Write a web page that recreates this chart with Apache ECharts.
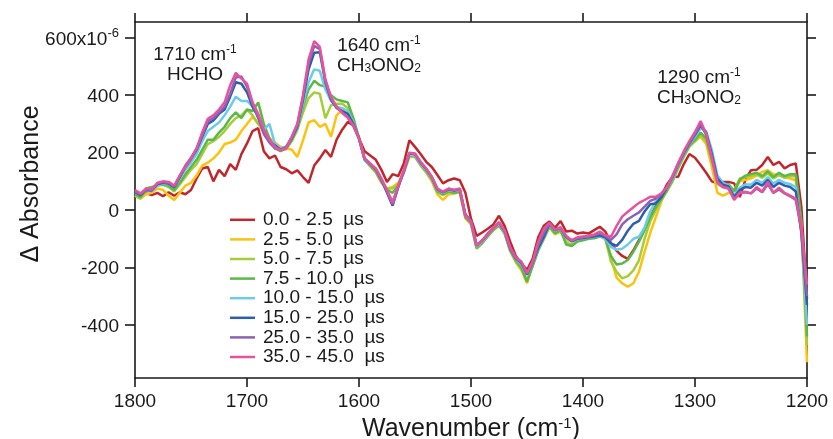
<!DOCTYPE html>
<html><head><meta charset="utf-8">
<script src="https://cdn.jsdelivr.net/npm/echarts@6/dist/echarts.min.js"></script>
<style>html,body{margin:0;padding:0;background:#fff}#c{width:833px;height:439px}</style>
</head><body><div id="c"></div>
<script>
const wavenumbers = [
1800,1795,1790,1785,1780,1775,1770,1765,1760,1755,
1750,1745,1740,1735,1730,1725,1720,1715,1710,1705,
1700,1695,1690,1685,1680,1675,1670,1665,1660,1655,
1650,1645,1640,1635,1630,1625,1620,1615,1610,1605,
1600,1595,1590,1585,1580,1575,1570,1565,1560,1555,
1550,1545,1540,1535,1530,1525,1520,1515,1510,1505,
1500,1495,1490,1485,1480,1475,1470,1465,1460,1455,
1450,1445,1440,1435,1430,1425,1420,1415,1410,1405,
1400,1395,1390,1385,1380,1375,1370,1365,1360,1355,
1350,1345,1340,1335,1330,1325,1320,1315,1310,1305,
1300,1295,1290,1285,1280,1275,1270,1265,1260,1255,
1250,1245,1240,1235,1230,1225,1220,1215,1210,1205,
1200];

const abs_0_0_2_5 = [
55,48,58,52,60,48,62,50,62,55,
70,110,145,150,100,140,118,160,140,195,
232,275,285,205,180,190,150,142,128,138,
115,95,155,180,209,185,245,280,307,295,
250,205,190,175,140,98,125,118,162,243,
220,195,168,150,122,93,104,110,104,60,
-30,-90,-78,-65,-50,-20,-55,-110,-160,-185,
-209,-170,-95,-55,-40,-62,-38,-75,-72,-82,
-78,-82,-70,-58,-75,-116,-142,-160,-170,-140,
-105,-65,-25,15,50,90,115,116,160,195,
182,157,130,100,93,98,98,93,45,105,
139,140,157,185,157,168,145,157,162,10,
-310];

const abs_2_5_5_0 = [
50,40,55,60,75,70,50,35,60,85,
95,120,155,165,180,200,230,235,245,275,
300,325,300,270,250,235,220,215,210,185,
243,305,313,290,300,255,330,350,340,300,
255,175,152,130,95,75,80,95,130,185,
185,155,130,100,55,35,55,58,62,-28,
-50,-130,-112,-88,-68,-52,-80,-142,-182,-210,
-255,-190,-135,-98,-60,-85,-75,-105,-110,-105,
-100,-98,-95,-90,-100,-170,-235,-255,-267,-255,
-215,-145,-80,-25,30,75,105,150,190,225,
240,255,230,150,60,50,60,65,100,105,
110,120,133,139,125,122,115,110,104,-60,
-530];

const abs_5_0_7_5 = [
50,40,70,75,85,88,80,65,90,115,
140,160,195,230,240,255,275,300,320,330,
350,330,300,285,250,220,210,212,240,280,
340,390,410,405,320,365,370,370,355,310,
250,175,155,135,100,75,75,90,130,188,
186,156,133,105,62,52,62,58,62,-28,
-48,-135,-116,-92,-70,-55,-82,-142,-180,-205,
-245,-195,-140,-100,-58,-82,-72,-115,-120,-108,
-100,-98,-96,-90,-100,-180,-215,-238,-230,-210,
-175,-100,-40,0,35,65,100,145,185,220,
240,260,240,170,90,80,85,70,110,115,
118,125,112,128,110,122,112,118,118,-50,
-470];

const abs_7_5_10_0 = [
55,45,75,80,88,90,85,70,95,125,
150,175,210,245,245,270,290,320,340,320,
350,345,375,300,250,215,205,215,245,285,
360,420,450,435,430,400,385,380,375,320,
250,175,155,135,100,70,60,85,135,190,
188,158,135,108,65,55,65,60,65,-25,
-45,-132,-114,-90,-68,-52,-80,-140,-175,-200,
-250,-195,-140,-100,-56,-80,-70,-120,-125,-110,
-105,-100,-98,-92,-100,-160,-190,-186,-174,-145,
-110,-70,-25,10,40,70,105,150,190,225,
245,270,250,180,105,90,90,65,105,120,
125,130,118,135,115,130,118,125,125,-40,
-440];

const abs_10_0_15_0 = [
60,55,68,65,85,92,90,80,110,140,
165,195,240,275,290,305,330,360,395,380,
380,360,330,280,300,230,215,220,250,290,
370,445,490,485,420,380,360,355,345,305,
248,175,158,140,103,65,30,82,135,192,
190,160,138,112,70,60,70,66,70,-20,
-40,-128,-110,-86,-64,-48,-76,-136,-170,-190,
-226,-186,-135,-96,-50,-72,-64,-96,-110,-102,
-98,-96,-94,-90,-100,-128,-138,-135,-120,-100,
-93,-60,-5,30,48,75,110,155,195,230,
255,285,275,210,120,95,85,50,78,90,
88,105,95,115,92,105,95,90,80,-80,
-400];

const abs_15_0_25_0 = [
62,52,70,68,90,95,92,80,115,150,
178,210,255,300,312,335,350,395,445,440,
410,360,325,275,240,225,210,218,250,292,
385,490,548,550,445,385,355,345,335,300,
250,178,160,142,105,60,15,80,135,197,
195,165,142,115,72,62,72,68,72,-18,
-38,-124,-106,-84,-62,-44,-72,-134,-168,-185,
-224,-184,-132,-94,-48,-70,-62,-94,-108,-100,
-97,-95,-92,-88,-95,-116,-125,-104,-72,-48,
-38,-5,20,23,45,78,115,160,198,232,
262,295,268,195,110,88,82,45,70,80,
78,95,85,105,80,95,85,80,65,-80,
-330];

const abs_25_0_35_0 = [
65,55,72,70,92,98,95,82,120,155,
182,215,260,310,320,340,360,405,462,465,
430,370,320,265,235,215,210,220,255,300,
395,510,572,560,450,390,358,340,322,292,
248,180,160,143,108,65,20,80,135,198,
195,165,143,115,73,62,73,70,72,-15,
-38,-122,-106,-82,-62,-44,-72,-132,-166,-182,
-222,-182,-122,-80,-46,-70,-62,-92,-106,-98,
-95,-92,-88,-80,-90,-104,-85,-50,-32,-20,
-8,12,32,40,55,80,118,160,200,235,
265,300,262,185,100,80,75,38,60,62,
58,75,62,90,60,72,58,48,35,-70,
-300];

const abs_35_0_45_0 = [
70,58,75,72,95,100,98,85,120,150,
180,215,270,318,330,350,375,435,478,458,
440,375,335,280,245,220,208,215,255,300,
400,525,588,568,455,394,360,338,322,295,
250,180,162,145,110,70,25,85,140,200,
197,168,145,116,75,64,75,70,75,-20,
-40,-125,-105,-85,-62,-42,-70,-130,-165,-180,
-220,-180,-110,-65,-45,-68,-60,-90,-105,-95,
-92,-90,-85,-75,-88,-93,-55,-23,-6,10,
25,35,46,46,58,80,120,165,205,240,
272,310,265,180,95,80,75,35,60,64,
58,80,64,98,60,78,60,50,40,-60,
-260];

const seriesNames = ['0.0 - 2.5  µs','2.5 - 5.0  µs','5.0 - 7.5  µs','7.5 - 10.0  µs',
  '10.0 - 15.0  µs','15.0 - 25.0  µs','25.0 - 35.0  µs','35.0 - 45.0  µs'];
const seriesValues = [abs_0_0_2_5, abs_2_5_5_0, abs_5_0_7_5, abs_7_5_10_0,
  abs_10_0_15_0, abs_15_0_25_0, abs_25_0_35_0, abs_35_0_45_0];
const seriesColors = ['#c0272d','#fcc20e','#a5cd3a','#5bb848','#6ccbea','#2b5fae','#8c62b5','#e8529d'];
const yTicks = [-400,-200,0,200,400,600];

const FONT = "'Liberation Sans', Arial, Helvetica, sans-serif";
const chart = echarts.init(document.getElementById('c'), null, {renderer:'canvas'});

const axisLineStyle = {color:'#1a1a1a', width:1.6};
const series = seriesNames.map((n,k)=>({
  name:n, type:'line', symbol:'none', smooth:false,
  lineStyle:{color:seriesColors[k], width:2.5},
  itemStyle:{color:seriesColors[k]},
  data: wavenumbers.map((w,i)=>[w, seriesValues[k][i]]),
  z: 2+k
}));

const option = {
  animation:false,
  backgroundColor:'#fff',
  grid:{left:135, right:26, top:22, bottom:61, outerBoundsMode:'none'},
  xAxis:[{
    type:'value', min:1200, max:1800, interval:100, inverse:true, position:'bottom',
    axisLine:{show:true, onZero:false, lineStyle:axisLineStyle},
    axisTick:{show:true, length:9, lineStyle:axisLineStyle},
    axisLabel:{fontSize:19, color:'#1a1a1a', fontFamily:FONT, margin:14, formatter:v=>String(v)},
    splitLine:{show:false},
    name:'{a|Wavenumber (cm}{s|-1}{a|)}', nameLocation:'middle', nameGap:27,
    nameTextStyle:{fontFamily:FONT, fontSize:25, color:'#1a1a1a',
      rich:{a:{fontSize:25, fontFamily:FONT, color:'#1a1a1a', lineHeight:26, verticalAlign:'bottom'},
            s:{fontSize:15, fontFamily:FONT, color:'#1a1a1a', lineHeight:14, verticalAlign:'top'}}}
  },{
    type:'value', min:1200, max:1800, interval:100, inverse:true, position:'top',
    axisLine:{show:true, onZero:false, lineStyle:axisLineStyle},
    axisTick:{show:true, length:9, lineStyle:axisLineStyle},
    axisLabel:{show:false}, splitLine:{show:false}
  }],
  yAxis:[{
    type:'value', min:-585, max:655, position:'left',
    axisLine:{show:true, onZero:false, lineStyle:axisLineStyle},
    axisTick:{show:true, length:10, lineStyle:axisLineStyle, customValues:yTicks},
    axisLabel:{customValues:yTicks, margin:16, fontSize:19, color:'#1a1a1a', fontFamily:FONT,
      formatter:v=> v===600 ? '{n|600x10}{s|-6}' : '{n|'+v+'}',
      rich:{n:{fontSize:19, fontFamily:FONT, color:'#1a1a1a', lineHeight:22, verticalAlign:'bottom'},
            s:{fontSize:13, fontFamily:FONT, color:'#1a1a1a', lineHeight:13, verticalAlign:'top'}}},
    splitLine:{show:false}
  },{
    type:'value', min:-585, max:655, position:'right',
    axisLine:{show:true, onZero:false, lineStyle:axisLineStyle},
    axisTick:{show:true, length:9, lineStyle:axisLineStyle, customValues:yTicks},
    axisLabel:{show:false}, splitLine:{show:false}
  }],
  legend:{
    orient:'vertical', left:225, top:205, itemWidth:25, itemHeight:2.5, itemGap:0,
    icon:'rect', data:seriesNames,
    textStyle:{fontSize:19, fontFamily:FONT, color:'#1a1a1a', lineHeight:19.6, padding:[0,0,0,3]}
  },
  graphic:[
    {type:'text', x:195, y:44, z:100, style:{
      text:'{a|1710 cm}{s|-1}\n{a|HCHO}', align:'center', verticalAlign:'top',
      rich:{a:{fontSize:19, fontFamily:FONT, fill:'#1a1a1a', lineHeight:20, verticalAlign:'bottom'},
            s:{fontSize:12, fontFamily:FONT, fill:'#1a1a1a', lineHeight:12, verticalAlign:'top'}}}},
    {type:'text', x:379, y:35, z:100, style:{
      text:'{a|1640 cm}{s|-1}\n{a|CH}{b|3}{a|ONO}{b|2}', align:'center', verticalAlign:'top',
      rich:{a:{fontSize:19, fontFamily:FONT, fill:'#1a1a1a', lineHeight:20, verticalAlign:'bottom'},
            s:{fontSize:12, fontFamily:FONT, fill:'#1a1a1a', lineHeight:12, verticalAlign:'top'},
            b:{fontSize:12, fontFamily:FONT, fill:'#1a1a1a', lineHeight:4, verticalAlign:'bottom'}}}},
    {type:'text', x:699, y:67, z:100, style:{
      text:'{a|1290 cm}{s|-1}\n{a|CH}{b|3}{a|ONO}{b|2}', align:'center', verticalAlign:'top',
      rich:{a:{fontSize:19, fontFamily:FONT, fill:'#1a1a1a', lineHeight:20, verticalAlign:'bottom'},
            s:{fontSize:12, fontFamily:FONT, fill:'#1a1a1a', lineHeight:12, verticalAlign:'top'},
            b:{fontSize:12, fontFamily:FONT, fill:'#1a1a1a', lineHeight:4, verticalAlign:'bottom'}}}},
    {type:'text', x:31, y:184, rotation:Math.PI/2, z:100, style:{
      text:'Δ Absorbance', align:'center', verticalAlign:'middle',
      font:'25px '+FONT, fill:'#1a1a1a'}}
  ],
  series: series
};
chart.setOption(option);
</script>
</body></html>
